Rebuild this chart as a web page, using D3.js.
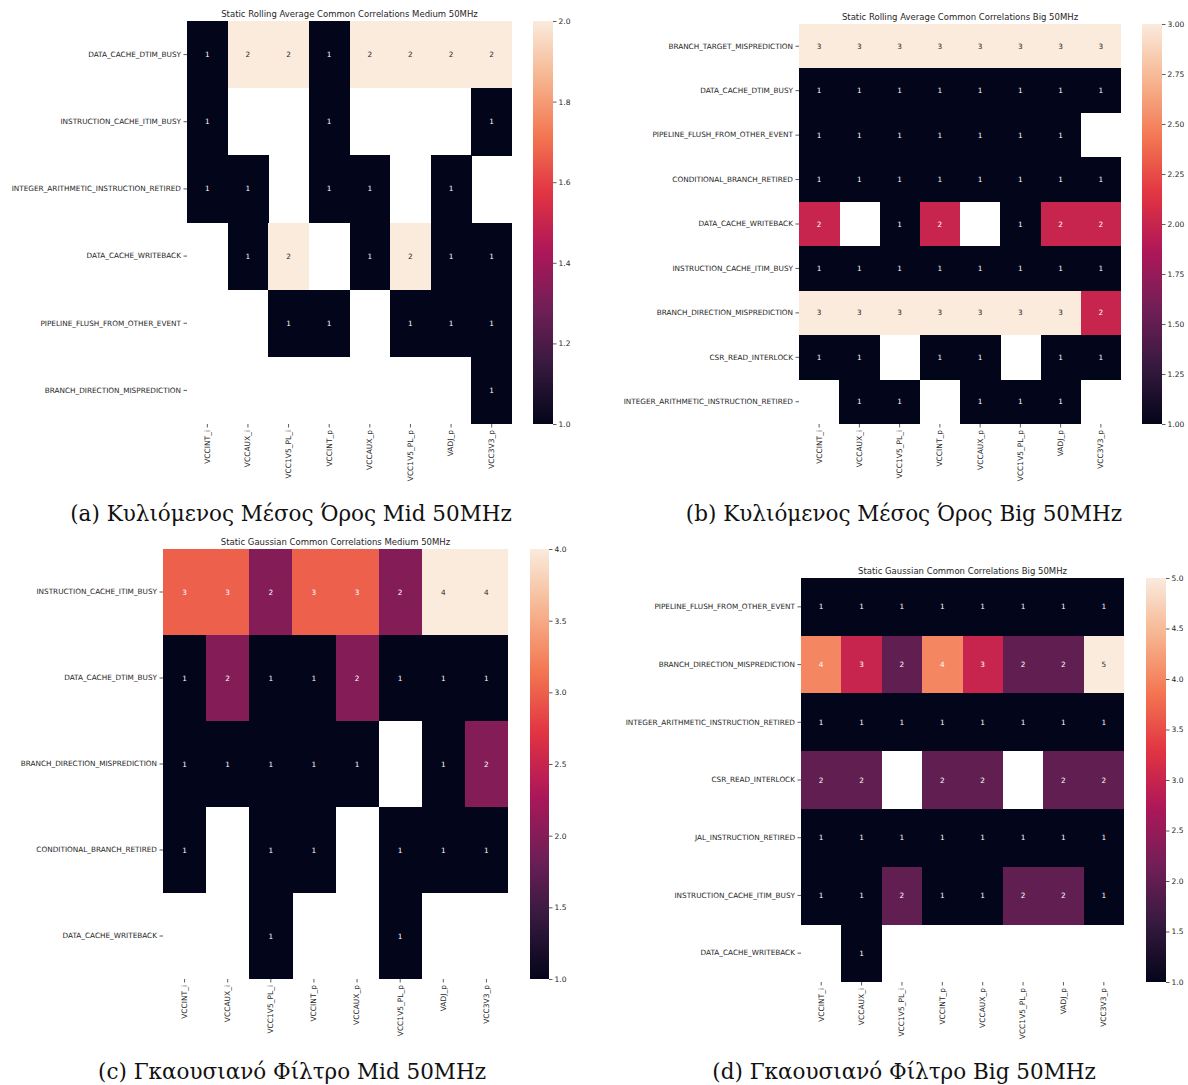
<!DOCTYPE html>
<html>
<head>
<meta charset="utf-8">
<script src="https://cdn.jsdelivr.net/npm/d3@7"></script>
<style>
  html, body { margin: 0; padding: 0; background: #fff; }
  svg { display: block; }
  .tick-label { font-family: "DejaVu Sans", sans-serif; fill: #262626; }
  .caption { font-family: "DejaVu Serif", serif; fill: #111; }
</style>
</head>
<body>
<svg id="fig" width="1188" height="1085"></svg>
<script>
// ---- data -----------------------------------------------------------------
const sensors = ["VCCINT_i", "VCCAUX_i", "VCC1V5_PL_i", "VCCINT_p", "VCCAUX_p", "VCC1V5_PL_p", "VADJ_p", "VCC3V3_p"];

const rollingMidEvents = [
  "DATA_CACHE_DTIM_BUSY",
  "INSTRUCTION_CACHE_ITIM_BUSY",
  "INTEGER_ARITHMETIC_INSTRUCTION_RETIRED",
  "DATA_CACHE_WRITEBACK",
  "PIPELINE_FLUSH_FROM_OTHER_EVENT",
  "BRANCH_DIRECTION_MISPREDICTION"
];
const rollingMidCounts = [
  [1, 2, 2, 1, 2, 2, 2, 2],
  [1, null, null, 1, null, null, null, 1],
  [1, 1, null, 1, 1, null, 1, null],
  [null, 1, 2, null, 1, 2, 1, 1],
  [null, null, 1, 1, null, 1, 1, 1],
  [null, null, null, null, null, null, null, 1]
];
const rollingMidTicks = [1.0, 1.2, 1.4, 1.6, 1.8, 2.0];

const rollingBigEvents = [
  "BRANCH_TARGET_MISPREDICTION",
  "DATA_CACHE_DTIM_BUSY",
  "PIPELINE_FLUSH_FROM_OTHER_EVENT",
  "CONDITIONAL_BRANCH_RETIRED",
  "DATA_CACHE_WRITEBACK",
  "INSTRUCTION_CACHE_ITIM_BUSY",
  "BRANCH_DIRECTION_MISPREDICTION",
  "CSR_READ_INTERLOCK",
  "INTEGER_ARITHMETIC_INSTRUCTION_RETIRED"
];
const rollingBigCounts = [
  [3, 3, 3, 3, 3, 3, 3, 3],
  [1, 1, 1, 1, 1, 1, 1, 1],
  [1, 1, 1, 1, 1, 1, 1, null],
  [1, 1, 1, 1, 1, 1, 1, 1],
  [2, null, 1, 2, null, 1, 2, 2],
  [1, 1, 1, 1, 1, 1, 1, 1],
  [3, 3, 3, 3, 3, 3, 3, 2],
  [1, 1, null, 1, 1, null, 1, 1],
  [null, 1, 1, null, 1, 1, 1, null]
];
const rollingBigTicks = [1.0, 1.25, 1.5, 1.75, 2.0, 2.25, 2.5, 2.75, 3.0];

const gaussMidEvents = [
  "INSTRUCTION_CACHE_ITIM_BUSY",
  "DATA_CACHE_DTIM_BUSY",
  "BRANCH_DIRECTION_MISPREDICTION",
  "CONDITIONAL_BRANCH_RETIRED",
  "DATA_CACHE_WRITEBACK"
];
const gaussMidCounts = [
  [3, 3, 2, 3, 3, 2, 4, 4],
  [1, 2, 1, 1, 2, 1, 1, 1],
  [1, 1, 1, 1, 1, null, 1, 2],
  [1, null, 1, 1, null, 1, 1, 1],
  [null, null, 1, null, null, 1, null, null]
];
const gaussMidTicks = [1.0, 1.5, 2.0, 2.5, 3.0, 3.5, 4.0];

const gaussBigEvents = [
  "PIPELINE_FLUSH_FROM_OTHER_EVENT",
  "BRANCH_DIRECTION_MISPREDICTION",
  "INTEGER_ARITHMETIC_INSTRUCTION_RETIRED",
  "CSR_READ_INTERLOCK",
  "JAL_INSTRUCTION_RETIRED",
  "INSTRUCTION_CACHE_ITIM_BUSY",
  "DATA_CACHE_WRITEBACK"
];
const gaussBigCounts = [
  [1, 1, 1, 1, 1, 1, 1, 1],
  [4, 3, 2, 4, 3, 2, 2, 5],
  [1, 1, 1, 1, 1, 1, 1, 1],
  [2, 2, null, 2, 2, null, 2, 2],
  [1, 1, 1, 1, 1, 1, 1, 1],
  [1, 1, 2, 1, 1, 2, 2, 1],
  [null, 1, null, null, null, null, null, null]
];
const gaussBigTicks = [1.0, 1.5, 2.0, 2.5, 3.0, 3.5, 4.0, 4.5, 5.0];

const titles = [
  "Static Rolling Average Common Correlations Medium 50MHz",
  "Static Rolling Average Common Correlations Big 50MHz",
  "Static Gaussian Common Correlations Medium 50MHz",
  "Static Gaussian Common Correlations Big 50MHz"
];
const captions = [
  "(a) Κυλιόμενος Μέσος Όρος Mid 50MHz",
  "(b) Κυλιόμενος Μέσος Όρος Big 50MHz",
  "(c) Γκαουσιανό Φίλτρο Mid 50MHz",
  "(d) Γκαουσιανό Φίλτρο Big 50MHz"
];

// ---- rocket-style sequential colormap --------------------------------------
const rocketStops = ["#03051a", "#35193e", "#701f57", "#ad1759", "#e13342", "#f37651", "#f6b48f", "#faebdd"];
const rocket = d3.scaleLinear()
  .domain(rocketStops.map((_, i) => i / (rocketStops.length - 1)))
  .range(rocketStops)
  .interpolate(d3.interpolateRgb)
  .clamp(true);

function luminance(c) {
  const rgb = d3.rgb(c);
  const lin = v => { v /= 255; return v <= 0.03928 ? v / 12.92 : Math.pow((v + 0.055) / 1.055, 2.4); };
  return 0.2126 * lin(rgb.r) + 0.7152 * lin(rgb.g) + 0.0722 * lin(rgb.b);
}

// ---- layout of the four panels ---------------------------------------------
const panels = [
  { events: rollingMidEvents, counts: rollingMidCounts, ticks: rollingMidTicks, fmt: ".1f",
    box: { x0: 187, x1: 512, y0: 21, y1: 424 }, cb: { x: 533, w: 20 }, cap: { x: 291, y: 521 } },
  { events: rollingBigEvents, counts: rollingBigCounts, ticks: rollingBigTicks, fmt: ".2f",
    box: { x0: 799, x1: 1121, y0: 24, y1: 424 }, cb: { x: 1142, w: 20 }, cap: { x: 904, y: 521 } },
  { events: gaussMidEvents, counts: gaussMidCounts, ticks: gaussMidTicks, fmt: ".1f",
    box: { x0: 163, x1: 508, y0: 549, y1: 979 }, cb: { x: 530, w: 19 }, cap: { x: 292, y: 1079 } },
  { events: gaussBigEvents, counts: gaussBigCounts, ticks: gaussBigTicks, fmt: ".1f",
    box: { x0: 801, x1: 1124, y0: 578, y1: 982 }, cb: { x: 1146, w: 20 }, cap: { x: 904, y: 1079 } }
];

const svg = d3.select("#fig");
const defs = svg.append("defs");
const FS = 7.3;          // tick / annotation font size
const tickLen = 3.5;
const tickColor = "#333";

panels.forEach((p, pi) => {
  const g = svg.append("g");
  const { x0, x1, y0, y1 } = p.box;

  const x = d3.scaleBand().domain(sensors).range([x0, x1]);
  const y = d3.scaleBand().domain(p.events).range([y0, y1]);

  const vals = p.counts.flat().filter(v => v != null);
  const vmin = d3.min(vals), vmax = d3.max(vals);
  const norm = d3.scaleLinear().domain([vmin, vmax]);
  const color = v => rocket(norm(v));

  // cells
  const cells = [];
  p.counts.forEach((row, ri) => row.forEach((v, ci) => {
    if (v != null) cells.push({ ev: p.events[ri], s: sensors[ci], v });
  }));

  g.selectAll("rect.cell").data(cells).join("rect")
    .attr("class", "cell")
    .attr("x", d => x(d.s))
    .attr("y", d => y(d.ev))
    .attr("width", x.bandwidth() + 0.3)
    .attr("height", y.bandwidth() + 0.3)
    .attr("fill", d => color(d.v))
    .attr("shape-rendering", "crispEdges");

  // annotations
  g.selectAll("text.annot").data(cells).join("text")
    .attr("class", "tick-label")
    .attr("x", d => x(d.s) + x.bandwidth() / 2)
    .attr("y", d => y(d.ev) + y.bandwidth() / 2)
    .attr("text-anchor", "middle")
    .attr("dominant-baseline", "central")
    .attr("font-size", FS)
    .style("fill", d => luminance(color(d.v)) > 0.408 ? "#262626" : "#ffffff")
    .text(d => d3.format("d")(d.v));

  // y axis (left)
  const yAxis = d3.axisLeft(y).tickSize(tickLen).tickPadding(2.5);
  const ya = g.append("g").attr("transform", `translate(${x0},0)`).call(yAxis);
  ya.select(".domain").remove();
  ya.selectAll("line").attr("stroke", tickColor).attr("stroke-width", 0.8);
  ya.selectAll("text").attr("class", "tick-label").attr("font-size", FS).attr("font-family", null).style("fill", "#262626");

  // x axis (bottom, rotated labels)
  const xAxis = d3.axisBottom(x).tickSize(tickLen).tickPadding(2.5);
  const xa = g.append("g").attr("transform", `translate(0,${y1})`).call(xAxis);
  xa.select(".domain").remove();
  xa.selectAll("line").attr("stroke", tickColor).attr("stroke-width", 0.8);
  xa.selectAll("text")
    .attr("class", "tick-label")
    .attr("font-size", 7.5).attr("font-family", null)
    .style("fill", "#262626")
    .attr("transform", "rotate(-90)")
    .attr("text-anchor", "end")
    .attr("x", -(tickLen + 2.5))
    .attr("y", 0)
    .attr("dy", "0.32em");

  // title
  g.append("text")
    .attr("class", "tick-label")
    .attr("x", (x0 + x1) / 2)
    .attr("y", y0 - 4.5)
    .attr("text-anchor", "middle")
    .attr("font-size", 8.5)
    .text(titles[pi]);

  // colorbar
  const gradId = `grad${pi}`;
  const grad = defs.append("linearGradient").attr("id", gradId)
    .attr("x1", 0).attr("y1", 1).attr("x2", 0).attr("y2", 0);
  d3.range(0, 1.0001, 0.02).forEach(t => {
    grad.append("stop").attr("offset", t).attr("stop-color", rocket(t));
  });
  g.append("rect")
    .attr("x", p.cb.x).attr("y", y0)
    .attr("width", p.cb.w).attr("height", y1 - y0)
    .attr("fill", `url(#${gradId})`);

  const cbScale = d3.scaleLinear().domain([vmin, vmax]).range([y1, y0]);
  const cbAxis = d3.axisRight(cbScale).tickValues(p.ticks).tickFormat(d3.format(p.fmt))
    .tickSize(tickLen).tickPadding(2);
  const ca = g.append("g").attr("transform", `translate(${p.cb.x + p.cb.w},0)`).call(cbAxis);
  ca.select(".domain").remove();
  ca.selectAll("line").attr("stroke", tickColor).attr("stroke-width", 0.8);
  ca.selectAll("text").attr("class", "tick-label").attr("font-size", 7.5).attr("font-family", null).style("fill", "#262626");

  // sub-figure caption
  svg.append("text")
    .attr("class", "caption")
    .attr("x", p.cap.x)
    .attr("y", p.cap.y)
    .attr("text-anchor", "middle")
    .attr("font-size", 21.5)
    .text(captions[pi]);
});
</script>
</body>
</html>
